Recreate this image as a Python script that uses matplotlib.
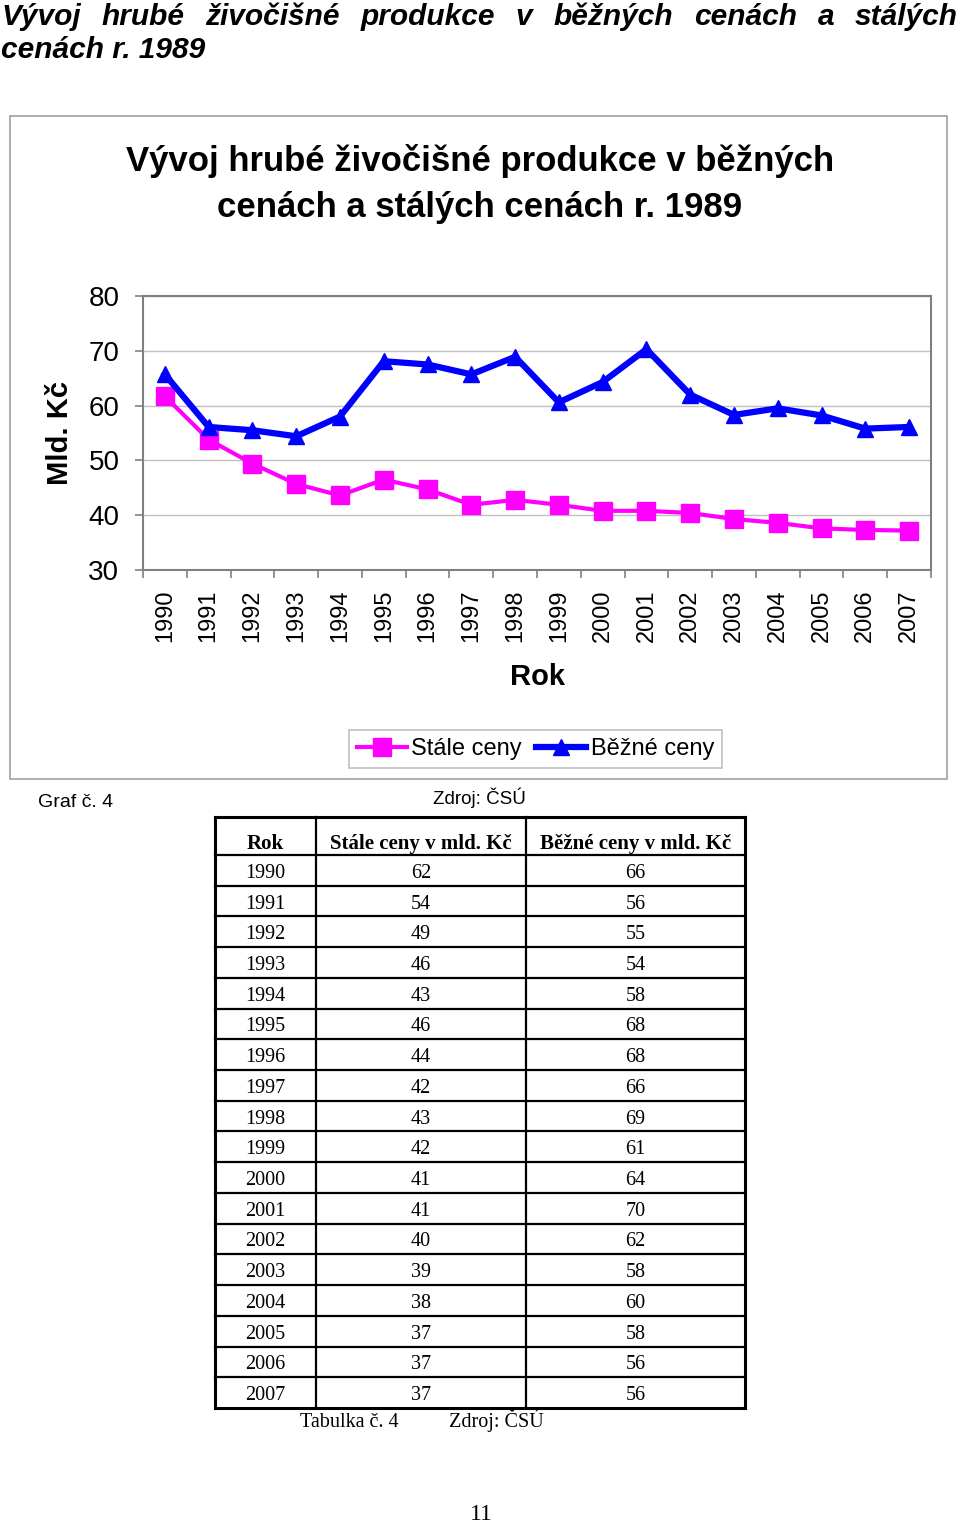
import numpy as np
import matplotlib.pyplot as plt
from matplotlib.patches import Rectangle

# Data
years = list(range(1990, 2008))
stale_ceny = [61.7, 53.8, 49.4, 45.7, 43.6, 46.5, 44.7, 41.9, 42.8, 41.9,
              40.8, 40.8, 40.4, 39.3, 38.6, 37.6, 37.3, 37.2]
bezne_ceny = [65.7, 56.1, 55.5, 54.4, 58.0, 68.1, 67.5, 65.7, 68.9, 60.6,
              64.3, 70.3, 62.0, 58.3, 59.5, 58.2, 55.8, 56.1]

# Values printed in the table under the chart
tab_stale = [62, 54, 49, 46, 43, 46, 44, 42, 43, 42, 41, 41, 40, 39, 38, 37, 37, 37]
tab_bezne = [66, 56, 55, 54, 58, 68, 68, 66, 69, 61, 64, 70, 62, 58, 60, 58, 56, 56]
tab_header = ["Rok", "Stále ceny v mld. Kč", "Běžné ceny v mld. Kč"]

W, H = 960, 1525
plt.rcParams['font.family'] = ['Liberation Sans', 'DejaVu Sans']
fig = plt.figure(figsize=(W / 100, H / 100), dpi=100)

# overlay in pixel coordinates for the page elements
page = fig.add_axes([0, 0, 1, 1])
page.set_xlim(0, W)
page.set_ylim(H, 0)
page.axis('off')

# page heading, justified first line
renderer = fig.canvas.get_renderer()
words = "Vývoj hrubé živočišné produkce v běžných cenách a stálých".split()
hfont = dict(fontsize=21.5, fontweight='bold', fontstyle='italic', va='baseline', ha='left')
texts = [page.text(0, 25, w, **hfont) for w in words]
widths = [t.get_window_extent(renderer).width for t in texts]
gap = (958 - 1 - sum(widths)) / (len(words) - 1)
x = 1
for t, w in zip(texts, widths):
    t.set_x(x)
    x += w + gap
page.text(1, 58, "cenách r. 1989", **hfont)

# chart frame
page.add_patch(Rectangle((10, 116), 937, 663, fill=False, ec='#a0a0a0', lw=1.2))

page.text(480, 184, "Vývoj hrubé živočišné produkce v běžných\ncenách a stálých cenách r. 1989",
          ha='center', va='center', fontsize=25, fontweight='bold', linespacing=1.5)

page.text(38, 807, "Graf č. 4", fontsize=14, va='baseline', ha='left')
page.text(433, 804, "Zdroj: ČSÚ", fontsize=13.5, va='baseline', ha='left')

# chart axes
ax = fig.add_axes([143 / W, 1 - 570 / H, 788 / W, 274 / H])
x_pos = np.arange(len(years))
ax.plot(x_pos, stale_ceny, color='#FF00FF', lw=3, marker='s', ms=13, label='Stále ceny', zorder=3)
ax.plot(x_pos, bezne_ceny, color='#0000FF', lw=4.5, marker='^', ms=11, label='Běžné ceny', zorder=4)
ax.set_xlim(-0.5, len(years) - 0.5)
ax.set_ylim(30, 80)
ax.set_yticks(range(30, 81, 10))
ax.set_xticks(x_pos)
ax.set_xticklabels([str(y) for y in years], rotation=90, fontsize=17)
ax.set_xticks(np.arange(-0.5, len(years), 1), minor=True)
ax.tick_params(axis='x', which='major', length=0, pad=14)
ax.tick_params(axis='x', which='minor', length=6, width=1.2, color='#808080', direction='out')
ax.tick_params(axis='y', labelsize=20, length=6, width=1.2, color='#808080', pad=11)
ax.grid(axis='y', color='#c0c0c0', lw=1)
for s in ax.spines.values():
    s.set_color('#808080')
    s.set_linewidth(1.5)
ax.set_ylabel("Mld. Kč", fontsize=21, fontweight='bold', labelpad=10)
ax.set_xlabel("Rok", fontsize=21, fontweight='bold', labelpad=15)

leg = ax.legend(loc='center', bbox_to_anchor=(535.5 / W, 1 - 749 / H), bbox_transform=fig.transFigure,
                ncol=2, fontsize=17, frameon=True, fancybox=False, edgecolor='#b0b0b0',
                handlelength=2.1, handletextpad=0.2, columnspacing=0.6, borderpad=0.35)
leg.get_frame().set_linewidth(1.2)

# table
col_x = [215, 316, 526, 745]
row_y = [817, 855] + [855 + 30.72 * (i + 1) for i in range(len(years))]
for xx in col_x:
    lw = 2.2 if xx in (col_x[0], col_x[-1]) else 1.6
    page.plot([xx, xx], [row_y[0], row_y[-1]], color='black', lw=lw, solid_capstyle='projecting')
for yy in row_y:
    lw = 2.2 if yy in (row_y[0], row_y[-1]) else 1.6
    page.plot([col_x[0], col_x[-1]], [yy, yy], color='black', lw=lw, solid_capstyle='projecting')

serif = ['Liberation Serif', 'DejaVu Serif']
centers = [(col_x[i] + col_x[i + 1]) / 2 for i in range(3)]
for c, h in zip(centers, tab_header):
    page.text(c, (row_y[0] + row_y[1]) / 2 + 8, h, ha='center', va='center',
              fontsize=15, fontweight='bold', family=serif)
for i, (y, a, b) in enumerate(zip(years, tab_stale, tab_bezne)):
    yc = (row_y[i + 1] + row_y[i + 2]) / 2 + 3
    for c, v in zip(centers, [y, a, b]):
        page.text(c, yc, str(v), ha='center', va='center', fontsize=14.5, family=serif)

page.text(300, 1427, "Tabulka č. 4", ha='left', va='baseline', fontsize=14.5, family=serif)
page.text(449, 1427, "Zdroj: ČSÚ", ha='left', va='baseline', fontsize=14.5, family=serif)
page.text(481, 1515, "11", ha='center', va='center', fontsize=17, family=serif)

fig.savefig("out.png", dpi=100)
